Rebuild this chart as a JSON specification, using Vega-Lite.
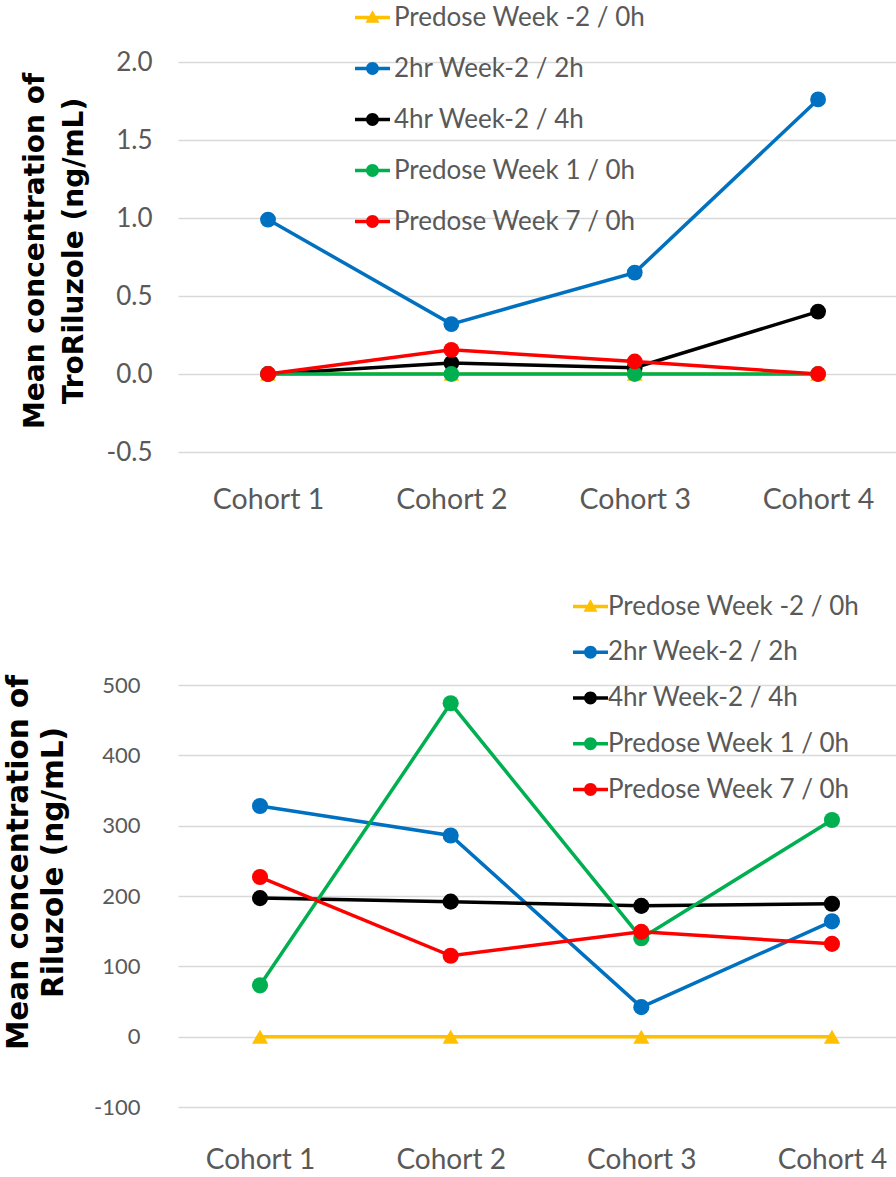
{
  "$schema": "https://vega.github.io/schema/vega-lite/v6.json",
  "background": "white",
  "padding": {"left": 0, "top": 0, "right": 0, "bottom": 0},
  "config": {
    "view": {"stroke": null},
    "axis": {"domain": false, "ticks": false, "gridColor": "#d9d9d9", "gridWidth": 1.5, "labelColor": "#595959", "labelFont": "Lato"},
    "legend": {"labelFont": "Lato", "labelColor": "#595959", "labelLimit": 500}
  },
  "datasets": {
    "tro": [
      {"cohort": "Cohort 1", "series": "Predose Week -2 / 0h", "value": 0},
      {"cohort": "Cohort 2", "series": "Predose Week -2 / 0h", "value": 0},
      {"cohort": "Cohort 3", "series": "Predose Week -2 / 0h", "value": 0},
      {"cohort": "Cohort 4", "series": "Predose Week -2 / 0h", "value": 0},
      {"cohort": "Cohort 1", "series": "2hr Week-2 / 2h", "value": 0.99},
      {"cohort": "Cohort 2", "series": "2hr Week-2 / 2h", "value": 0.32},
      {"cohort": "Cohort 3", "series": "2hr Week-2 / 2h", "value": 0.65},
      {"cohort": "Cohort 4", "series": "2hr Week-2 / 2h", "value": 1.76},
      {"cohort": "Cohort 1", "series": "4hr Week-2 / 4h", "value": 0},
      {"cohort": "Cohort 2", "series": "4hr Week-2 / 4h", "value": 0.07},
      {"cohort": "Cohort 3", "series": "4hr Week-2 / 4h", "value": 0.04},
      {"cohort": "Cohort 4", "series": "4hr Week-2 / 4h", "value": 0.4},
      {"cohort": "Cohort 1", "series": "Predose Week 1 / 0h", "value": 0},
      {"cohort": "Cohort 2", "series": "Predose Week 1 / 0h", "value": 0},
      {"cohort": "Cohort 3", "series": "Predose Week 1 / 0h", "value": 0},
      {"cohort": "Cohort 4", "series": "Predose Week 1 / 0h", "value": 0},
      {"cohort": "Cohort 1", "series": "Predose Week 7 / 0h", "value": 0},
      {"cohort": "Cohort 2", "series": "Predose Week 7 / 0h", "value": 0.155},
      {"cohort": "Cohort 3", "series": "Predose Week 7 / 0h", "value": 0.08},
      {"cohort": "Cohort 4", "series": "Predose Week 7 / 0h", "value": 0}
    ],
    "ril": [
      {"cohort": "Cohort 1", "series": "Predose Week -2 / 0h", "value": 0},
      {"cohort": "Cohort 2", "series": "Predose Week -2 / 0h", "value": 0},
      {"cohort": "Cohort 3", "series": "Predose Week -2 / 0h", "value": 0},
      {"cohort": "Cohort 4", "series": "Predose Week -2 / 0h", "value": 0},
      {"cohort": "Cohort 1", "series": "2hr Week-2 / 2h", "value": 328},
      {"cohort": "Cohort 2", "series": "2hr Week-2 / 2h", "value": 286},
      {"cohort": "Cohort 3", "series": "2hr Week-2 / 2h", "value": 42},
      {"cohort": "Cohort 4", "series": "2hr Week-2 / 2h", "value": 164},
      {"cohort": "Cohort 1", "series": "4hr Week-2 / 4h", "value": 197},
      {"cohort": "Cohort 2", "series": "4hr Week-2 / 4h", "value": 192},
      {"cohort": "Cohort 3", "series": "4hr Week-2 / 4h", "value": 186},
      {"cohort": "Cohort 4", "series": "4hr Week-2 / 4h", "value": 189},
      {"cohort": "Cohort 1", "series": "Predose Week 1 / 0h", "value": 73},
      {"cohort": "Cohort 2", "series": "Predose Week 1 / 0h", "value": 474},
      {"cohort": "Cohort 3", "series": "Predose Week 1 / 0h", "value": 140},
      {"cohort": "Cohort 4", "series": "Predose Week 1 / 0h", "value": 308},
      {"cohort": "Cohort 1", "series": "Predose Week 7 / 0h", "value": 227},
      {"cohort": "Cohort 2", "series": "Predose Week 7 / 0h", "value": 115},
      {"cohort": "Cohort 3", "series": "Predose Week 7 / 0h", "value": 149},
      {"cohort": "Cohort 4", "series": "Predose Week 7 / 0h", "value": 132}
    ]
  },
  "resolve": {"scale": {"color": "independent"}},
  "spacing": 75,
  "vconcat": [
    {
      "width": 718,
      "height": 390,
      "data": {"name": "tro"},
      "encoding": {
        "x": {"field": "cohort", "type": "nominal", "sort": null,
          "scale": {"type": "point", "padding": 0.458, "align": 0.536},
          "axis": {"labelAngle": 0, "labelFontSize": 28.5, "labelPadding": 33, "grid": false,
            "title": ".", "titleColor": "#ffffff", "titleFontSize": 8, "titleX": -178, "titleY": 5, "titleAlign": "left", "titleBaseline": "top"}},
        "y": {"field": "value", "type": "quantitative",
          "scale": {"domain": [-0.5, 2], "nice": false, "zero": false},
          "axis": {"values": [-0.5, 0, 0.5, 1, 1.5, 2], "format": ".1f", "labelExpr": "replace(datum.label, '\u2212', '-')",
            "labelFontSize": 26, "labelPadding": 26,
            "title": ["Mean concentration of", "TroRiluzole (ng/mL)"],
            "titleFont": "DejaVu Sans", "titleFontWeight": "bold", "titleFontSize": 28, "titleColor": "#000000",
            "titleAngle": 270, "titleX": -143, "titleY": 188.5, "titleBaseline": "middle", "titleAlign": "center", "titleLineHeight": 39}},
        "color": {"field": "series", "type": "nominal", "sort": null,
          "scale": {"domain": ["Predose Week -2 / 0h", "2hr Week-2 / 2h", "4hr Week-2 / 4h", "Predose Week 1 / 0h", "Predose Week 7 / 0h"],
            "range": ["#FFC000", "#0070C0", "#000000", "#00B050", "#FF0000"]},
          "legend": {"title": null, "orient": "none", "legendX": 177, "legendY": -62, "padding": 0,
            "symbolSize": 1225, "symbolStrokeWidth": 0, "symbolStrokeColor": "transparent", "labelFontSize": 26, "labelOffset": 4, "rowPadding": 20,
            "symbolFillColor": {"expr": "datum.value === 'Predose Week -2 / 0h' ? '#FFC000' : datum.value === '2hr Week-2 / 2h' ? '#0070C0' : datum.value === '4hr Week-2 / 4h' ? '#000000' : datum.value === 'Predose Week 1 / 0h' ? '#00B050' : '#FF0000'"},
            "symbolType": {"expr": "datum.value === 'Predose Week -2 / 0h' ? 'M-1,-0.1H1V0.1H-1Z M0,-0.42L0.4,0.3H-0.4Z' : 'M-1,-0.1H1V0.1H-1Z M0.37,0A0.37,0.37 0 1,1 -0.37,0A0.37,0.37 0 1,1 0.37,0Z'"}}}
      },
      "layer": [
        {"mark": {"type": "line", "strokeWidth": 3.5}},
        {"transform": [{"filter": "datum.series === 'Predose Week -2 / 0h'"}],
          "mark": {"type": "point", "shape": "triangle-up", "filled": true, "opacity": 1, "size": 250}},
        {"transform": [{"filter": "datum.series !== 'Predose Week -2 / 0h'"}],
          "mark": {"type": "point", "shape": "circle", "filled": true, "opacity": 1, "size": 250}}
      ]
    },
    {
      "width": 718,
      "height": 422,
      "data": {"name": "ril"},
      "encoding": {
        "x": {"field": "cohort", "type": "nominal", "sort": null,
          "scale": {"type": "point", "padding": 0.383, "align": 0.5616},
          "axis": {"labelAngle": 0, "labelFontSize": 28, "labelPadding": 39, "grid": false,
            "title": ".", "titleColor": "#ffffff", "titleFontSize": 8, "titleX": -178, "titleY": 5, "titleAlign": "left", "titleBaseline": "top"}},
        "y": {"field": "value", "type": "quantitative",
          "scale": {"domain": [-100, 500], "nice": false, "zero": false},
          "axis": {"values": [-100, 0, 100, 200, 300, 400, 500], "format": "d", "labelExpr": "replace(datum.label, '\u2212', '-')",
            "labelFontSize": 22, "labelPadding": 38,
            "title": ["Mean concentration of", "Riluzole (ng/mL)"],
            "titleFont": "DejaVu Sans", "titleFontWeight": "bold", "titleFontSize": 29.5, "titleColor": "#000000",
            "titleAngle": 270, "titleX": -160, "titleY": 177, "titleBaseline": "middle", "titleAlign": "center", "titleLineHeight": 35}},
        "color": {"field": "series", "type": "nominal", "sort": null,
          "scale": {"domain": ["Predose Week -2 / 0h", "2hr Week-2 / 2h", "4hr Week-2 / 4h", "Predose Week 1 / 0h", "Predose Week 7 / 0h"],
            "range": ["#FFC000", "#0070C0", "#000000", "#00B050", "#FF0000"]},
          "legend": {"title": null, "orient": "none", "legendX": 395, "legendY": -96, "padding": 0,
            "symbolSize": 1225, "symbolStrokeWidth": 0, "symbolStrokeColor": "transparent", "labelFontSize": 26, "labelOffset": 0, "rowPadding": 14.75,
            "symbolFillColor": {"expr": "datum.value === 'Predose Week -2 / 0h' ? '#FFC000' : datum.value === '2hr Week-2 / 2h' ? '#0070C0' : datum.value === '4hr Week-2 / 4h' ? '#000000' : datum.value === 'Predose Week 1 / 0h' ? '#00B050' : '#FF0000'"},
            "symbolType": {"expr": "datum.value === 'Predose Week -2 / 0h' ? 'M-1,-0.1H1V0.1H-1Z M0,-0.42L0.4,0.3H-0.4Z' : 'M-1,-0.1H1V0.1H-1Z M0.37,0A0.37,0.37 0 1,1 -0.37,0A0.37,0.37 0 1,1 0.37,0Z'"}}}
      },
      "layer": [
        {"mark": {"type": "line", "strokeWidth": 3.5}},
        {"transform": [{"filter": "datum.series === 'Predose Week -2 / 0h'"}],
          "mark": {"type": "point", "shape": "triangle-up", "filled": true, "opacity": 1, "size": 260}},
        {"transform": [{"filter": "datum.series !== 'Predose Week -2 / 0h'"}],
          "mark": {"type": "point", "shape": "circle", "filled": true, "opacity": 1, "size": 260}}
      ]
    }
  ]
}
